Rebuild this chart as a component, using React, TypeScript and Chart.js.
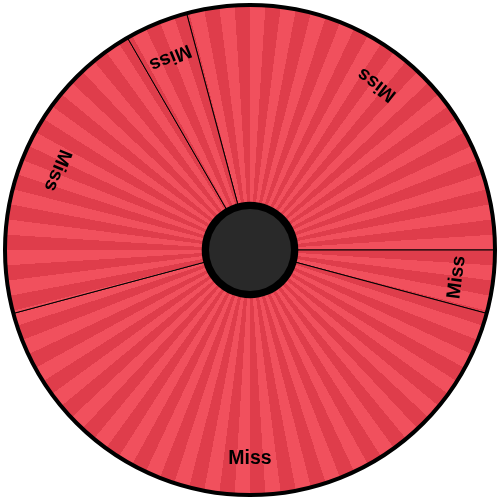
import React, { useEffect, useRef } from "react";
import { Chart, registerables } from "chart.js";

Chart.register(...registerables);

const labels = ["Miss", "Miss", "Miss", "Miss", "Miss"];
const values = [105, 15, 150, 75, 15];
const startRotation = -15;
const stripeCount = 100;
const lightColor = "#f1505d";
const darkColor = "#df3d4b";

export default function App() {
  const ref = useRef<HTMLCanvasElement | null>(null);

  useEffect(() => {
    document.body.style.margin = "0";
    if (!ref.current) return;
    let cached: CanvasGradient | null = null;
    let cacheKey = "";

    const stripes = (c: any) => {
      const chart = c.chart;
      const area = chart.chartArea;
      if (!area) return lightColor;
      const cx = (area.left + area.right) / 2;
      const cy = (area.top + area.bottom) / 2;
      const key = cx + "," + cy;
      if (cached && key === cacheKey) return cached;
      const g = (chart.ctx as any).createConicGradient(-Math.PI / 2, cx, cy);
      for (let i = 0; i < stripeCount; i++) {
        const col = i % 2 === 0 ? lightColor : darkColor;
        g.addColorStop(i / stripeCount, col);
        g.addColorStop((i + 1) / stripeCount, col);
      }
      cached = g;
      cacheKey = key;
      return g;
    };

    const wheelPlugin = {
      id: "wheel",
      afterDatasetsDraw(chart: any) {
        const ctx = chart.ctx as CanvasRenderingContext2D;
        const meta = chart.getDatasetMeta(0);
        const first = meta.data[0] as any;
        if (!first) return;
        const cx = first.x;
        const cy = first.y;
        const R = first.outerRadius;
        ctx.save();
        // outer rim
        ctx.beginPath();
        ctx.arc(cx, cy, R - 0.5, 0, Math.PI * 2);
        ctx.lineWidth = 4;
        ctx.strokeStyle = "#000";
        ctx.stroke();
        // hub
        ctx.beginPath();
        ctx.arc(cx, cy, 48.3, 0, Math.PI * 2);
        ctx.fillStyle = "#000";
        ctx.fill();
        ctx.beginPath();
        ctx.arc(cx, cy, 41, 0, Math.PI * 2);
        ctx.fillStyle = "#292929";
        ctx.fill();
        // labels
        ctx.font = "bold 19.5px 'Liberation Sans', Arial, sans-serif";
        ctx.fillStyle = "#000";
        ctx.textAlign = "center";
        ctx.textBaseline = "middle";
        meta.data.forEach((arc: any, i: number) => {
          const mid = (arc.startAngle + arc.endAngle) / 2;
          const r = R * 0.849;
          ctx.save();
          ctx.translate(cx + r * Math.cos(mid), cy + r * Math.sin(mid));
          ctx.rotate(mid - Math.PI / 2);
          ctx.fillText(chart.data.labels[i], 0, 0);
          ctx.restore();
        });
        ctx.restore();
      },
    };

    const chart = new Chart(ref.current, {
      type: "pie",
      data: {
        labels,
        datasets: [
          {
            data: values,
            backgroundColor: stripes as any,
            borderColor: "#000",
            borderWidth: 1,
          },
        ],
      },
      options: {
        animation: false,
        responsive: true,
        maintainAspectRatio: false,
        rotation: startRotation,
        layout: { padding: 4 },
        plugins: {
          legend: { display: false },
          tooltip: { enabled: false },
        },
      },
      plugins: [wheelPlugin],
    });
    return () => chart.destroy();
  }, []);

  return (
    <div style={{ width: 500, height: 500, position: "relative" }}>
      <canvas ref={ref} />
    </div>
  );
}
